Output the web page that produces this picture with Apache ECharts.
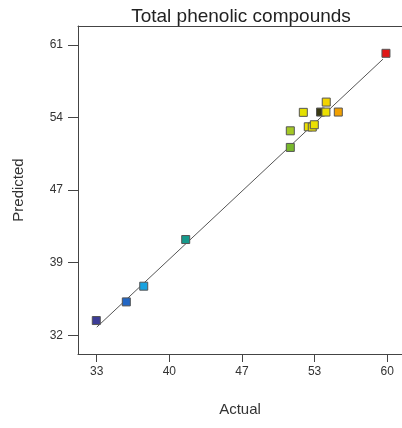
<!DOCTYPE html>
<html>
<head>
<meta charset="utf-8">
<script src="https://cdn.jsdelivr.net/npm/echarts@6/dist/echarts.min.js"></script>
<style>html,body{margin:0;padding:0;background:#fff;}#c{width:402px;height:428px;}</style>
</head>
<body>
<div id="c"></div>
<script>
var actual    = [32.96, 35.75, 37.37, 41.27, 50.99, 50.99, 52.20, 52.66, 53.03, 53.22, 53.80, 54.30, 54.33, 55.45, 59.88];
var predicted = [33.66, 35.51, 37.07, 41.70, 50.84, 52.49, 54.32, 52.89, 52.86, 53.09, 54.35, 54.35, 55.34, 54.35, 60.18];
var pointColors = ['#3c3c96', '#2266c4', '#18a2e0', '#169a8c', '#78b82c', '#a4c824', '#e4e000', '#ece000', '#ece000', '#ece000', '#3a3a14', '#ece000', '#f2d400', '#f2a000', '#e01818'];
var fitLine = [[33.0, 33.0], [59.6, 59.6]];
var xTicks = [33, 39.75, 46.5, 53.25, 60];
var xTickLabels = ['33', '40', '47', '53', '60'];
var yTicks = [32.2, 39.4, 46.6, 53.8, 61.0];
var yTickLabels = ['32', '39', '47', '54', '61'];

function labelFor(ticks, labels) {
  return function (v) {
    var best = 0, d = Infinity;
    for (var i = 0; i < ticks.length; i++) {
      var dd = Math.abs(ticks[i] - v);
      if (dd < d) { d = dd; best = i; }
    }
    return labels[best];
  };
}

var pts = actual.map(function (a, i) {
  return { value: [a, predicted[i]], itemStyle: { color: pointColors[i] } };
});

var X_MIN = 31.26, X_MAX = 61.37;
var chart = echarts.init(document.getElementById('c'));
chart.setOption({
  animation: false,
  title: {
    text: 'Total phenolic compounds',
    left: 236, top: 2, textAlign: 'center',
    textStyle: { fontFamily: 'Liberation Sans', fontSize: 19, fontWeight: 'normal', color: '#222' }
  },
  grid: { left: 78, top: 26, right: 0, bottom: 74, show: false, containLabel: false },
  xAxis: [{
    type: 'value', min: X_MIN, max: X_MAX,
    name: 'Actual', nameLocation: 'middle', nameGap: 48,
    nameTextStyle: { fontFamily: 'Liberation Sans', fontSize: 15, color: '#333' },
    axisLine: { show: true, lineStyle: { color: '#444' } },
    axisTick: { show: true, inside: false, length: 8, customValues: xTicks, lineStyle: { color: '#444' } },
    axisLabel: { customValues: xTicks, formatter: labelFor(xTicks, xTickLabels), margin: 12, fontFamily: 'Liberation Sans', fontSize: 12, color: '#333' },
    splitLine: { show: false }
  }, {
    type: 'value', min: X_MIN, max: X_MAX, position: 'top',
    axisLine: { show: true, onZero: false, lineStyle: { color: '#444' } },
    axisTick: { show: false }, axisLabel: { show: false }, splitLine: { show: false }
  }],
  yAxis: {
    type: 'value', min: 30.34, max: 62.89,
    name: 'Predicted', nameLocation: 'middle', nameGap: 52, nameRotate: 90,
    nameTextStyle: { fontFamily: 'Liberation Sans', fontSize: 15, color: '#333' },
    axisLine: { show: true, onZero: false, lineStyle: { color: '#444' } },
    axisTick: { show: true, inside: false, length: 10, customValues: yTicks, lineStyle: { color: '#444' } },
    axisLabel: { customValues: yTicks, formatter: labelFor(yTicks, yTickLabels), margin: 15, fontFamily: 'Liberation Sans', fontSize: 12, color: '#333' },
    splitLine: { show: false }
  },
  series: [
    {
      type: 'line', data: fitLine, symbol: 'none', silent: true,
      lineStyle: { color: '#555', width: 1 }, z: 1
    },
    {
      type: 'scatter', data: pts, symbol: 'rect', symbolSize: 8,
      itemStyle: { borderColor: '#555', borderWidth: 1, opacity: 1 }, z: 2
    }
  ]
});
</script>
</body>
</html>
